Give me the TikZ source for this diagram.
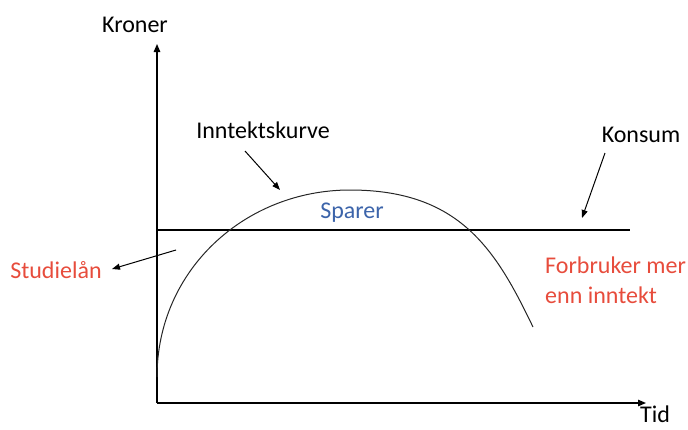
\documentclass[tikz,border=0pt]{standalone}
\usepackage{fontspec}
\setmainfont{Carlito}
\usetikzlibrary{arrows.meta}
\definecolor{lred}{RGB}{231,76,60}
\definecolor{lblue}{RGB}{60,100,170}
\tikzset{
  axis/.style={line width=1.3pt,-{Triangle[length=8pt,width=6.5pt]}},
  pointer/.style={line width=1pt,-{Triangle[length=8pt,width=6pt]}},
  lbl/.style={font=\fontsize{24}{28}\selectfont,inner sep=0pt},
}
\begin{document}
\begin{tikzpicture}[x=1pt,y=-1pt]
\useasboundingbox (0,0) rectangle (688,429);
% axes
\coordinate (O) at (157,403);
\coordinate (ytop) at (157,44);
\coordinate (xend) at (646,403);
\draw[axis] (O) -- (ytop);
\draw[axis] (O) -- (xend);
% consumption line
\coordinate (cL) at (157,230);
\coordinate (cR) at (630,230);
\draw[line width=1.2pt] (cL) -- (cR);
% income curve
\coordinate (s0) at (157,377);
\coordinate (pk) at (350,190);
\coordinate (s1) at (533,327);
\draw[line width=1pt,black!85] (s0) .. controls (157,270) and (245,190) .. (pk)
  .. controls (460,190) and (496,250) .. (s1);
% labels
\node[lbl] (kroner) at (135,25) {Kroner};
\node[lbl] (tid) at (655,414) {Tid};
\node[lbl] (inntekt) at (263,130) {Inntektskurve};
\node[lbl] (konsum) at (641,135) {Konsum};
\node[lbl,text=lblue] (sparer) at (352,213) {Sparer};
\node[lbl,text=lred] (studie) at (56,270) {Studielån};
\node[lbl,text=lred,anchor=west,align=left] (forbruk) at (545,280) {Forbruker mer\\[2pt]enn inntekt};
% pointers
\coordinate (a1s) at (176,250); \coordinate (a1e) at (112,269);
\coordinate (a2s) at (245,151); \coordinate (a2e) at (280,190);
\coordinate (a3s) at (605,153); \coordinate (a3e) at (582,218);
\draw[pointer] (a1s) -- (a1e);
\draw[pointer] (a2s) -- (a2e);
\draw[pointer] (a3s) -- (a3e);
\end{tikzpicture}
\end{document}
